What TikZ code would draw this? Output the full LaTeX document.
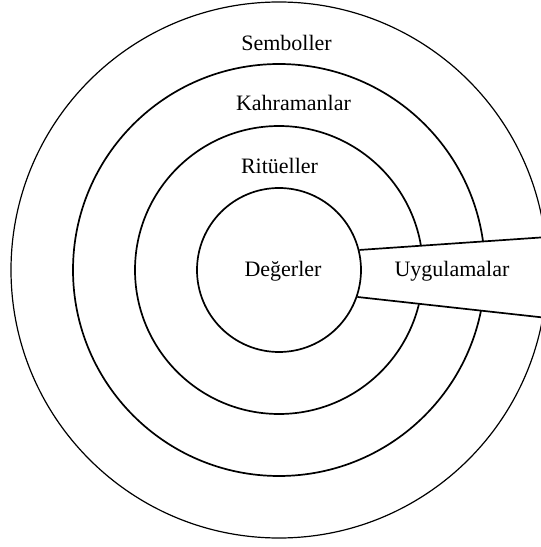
\documentclass[tikz,border=0pt]{standalone}
\usepackage{fontspec}
\setmainfont{Liberation Serif}
\begin{document}
\begin{tikzpicture}[x=1pt, y=1pt,
    ring/.style={draw, circle, inner sep=0pt, line width=1.7pt},
    layer/.style={anchor=base, font=\fontsize{22}{26}\selectfont}]
    \useasboundingbox (0,0) rectangle (541,547);

    % Draw the outer rings
    \node[ring, line width=1.2pt, minimum size=536pt] (symbols) at (279,277) {};
    \node[ring, minimum size=412pt] (heroes) at (279,277) {};
    \node[ring, minimum size=288pt] (rituals) at (279,277) {};

    % Cut the opening for the practices
    \coordinate (topend) at (545,309.8);
    \coordinate (botend) at (545,229.3);
    \fill[white] (330,295.9) -- (topend) -- (botend) -- (330,252.4) -- cycle;

    % Draw the core circle
    \node[ring, fill=white, minimum size=164pt] (values) at (279,277) {};

    % Draw the edges of the opening
    \draw[line width=1.7pt] (values.14.5) -- (topend);
    \draw[line width=1.7pt] (values.-19) -- (botend);

    % Label the layers
    \node[layer] (symlbl) at (286.5,496) {Semboller};
    \node[layer] (herolbl) at (293.5,436) {Kahramanlar};
    \node[layer] (ritelbl) at (279.5,373) {Ritüeller};
    \node[layer] (vallbl) at (283,270) {Değerler};
    \node[layer] (praclbl) at (452,270) {Uygulamalar};
\end{tikzpicture}
\end{document}
